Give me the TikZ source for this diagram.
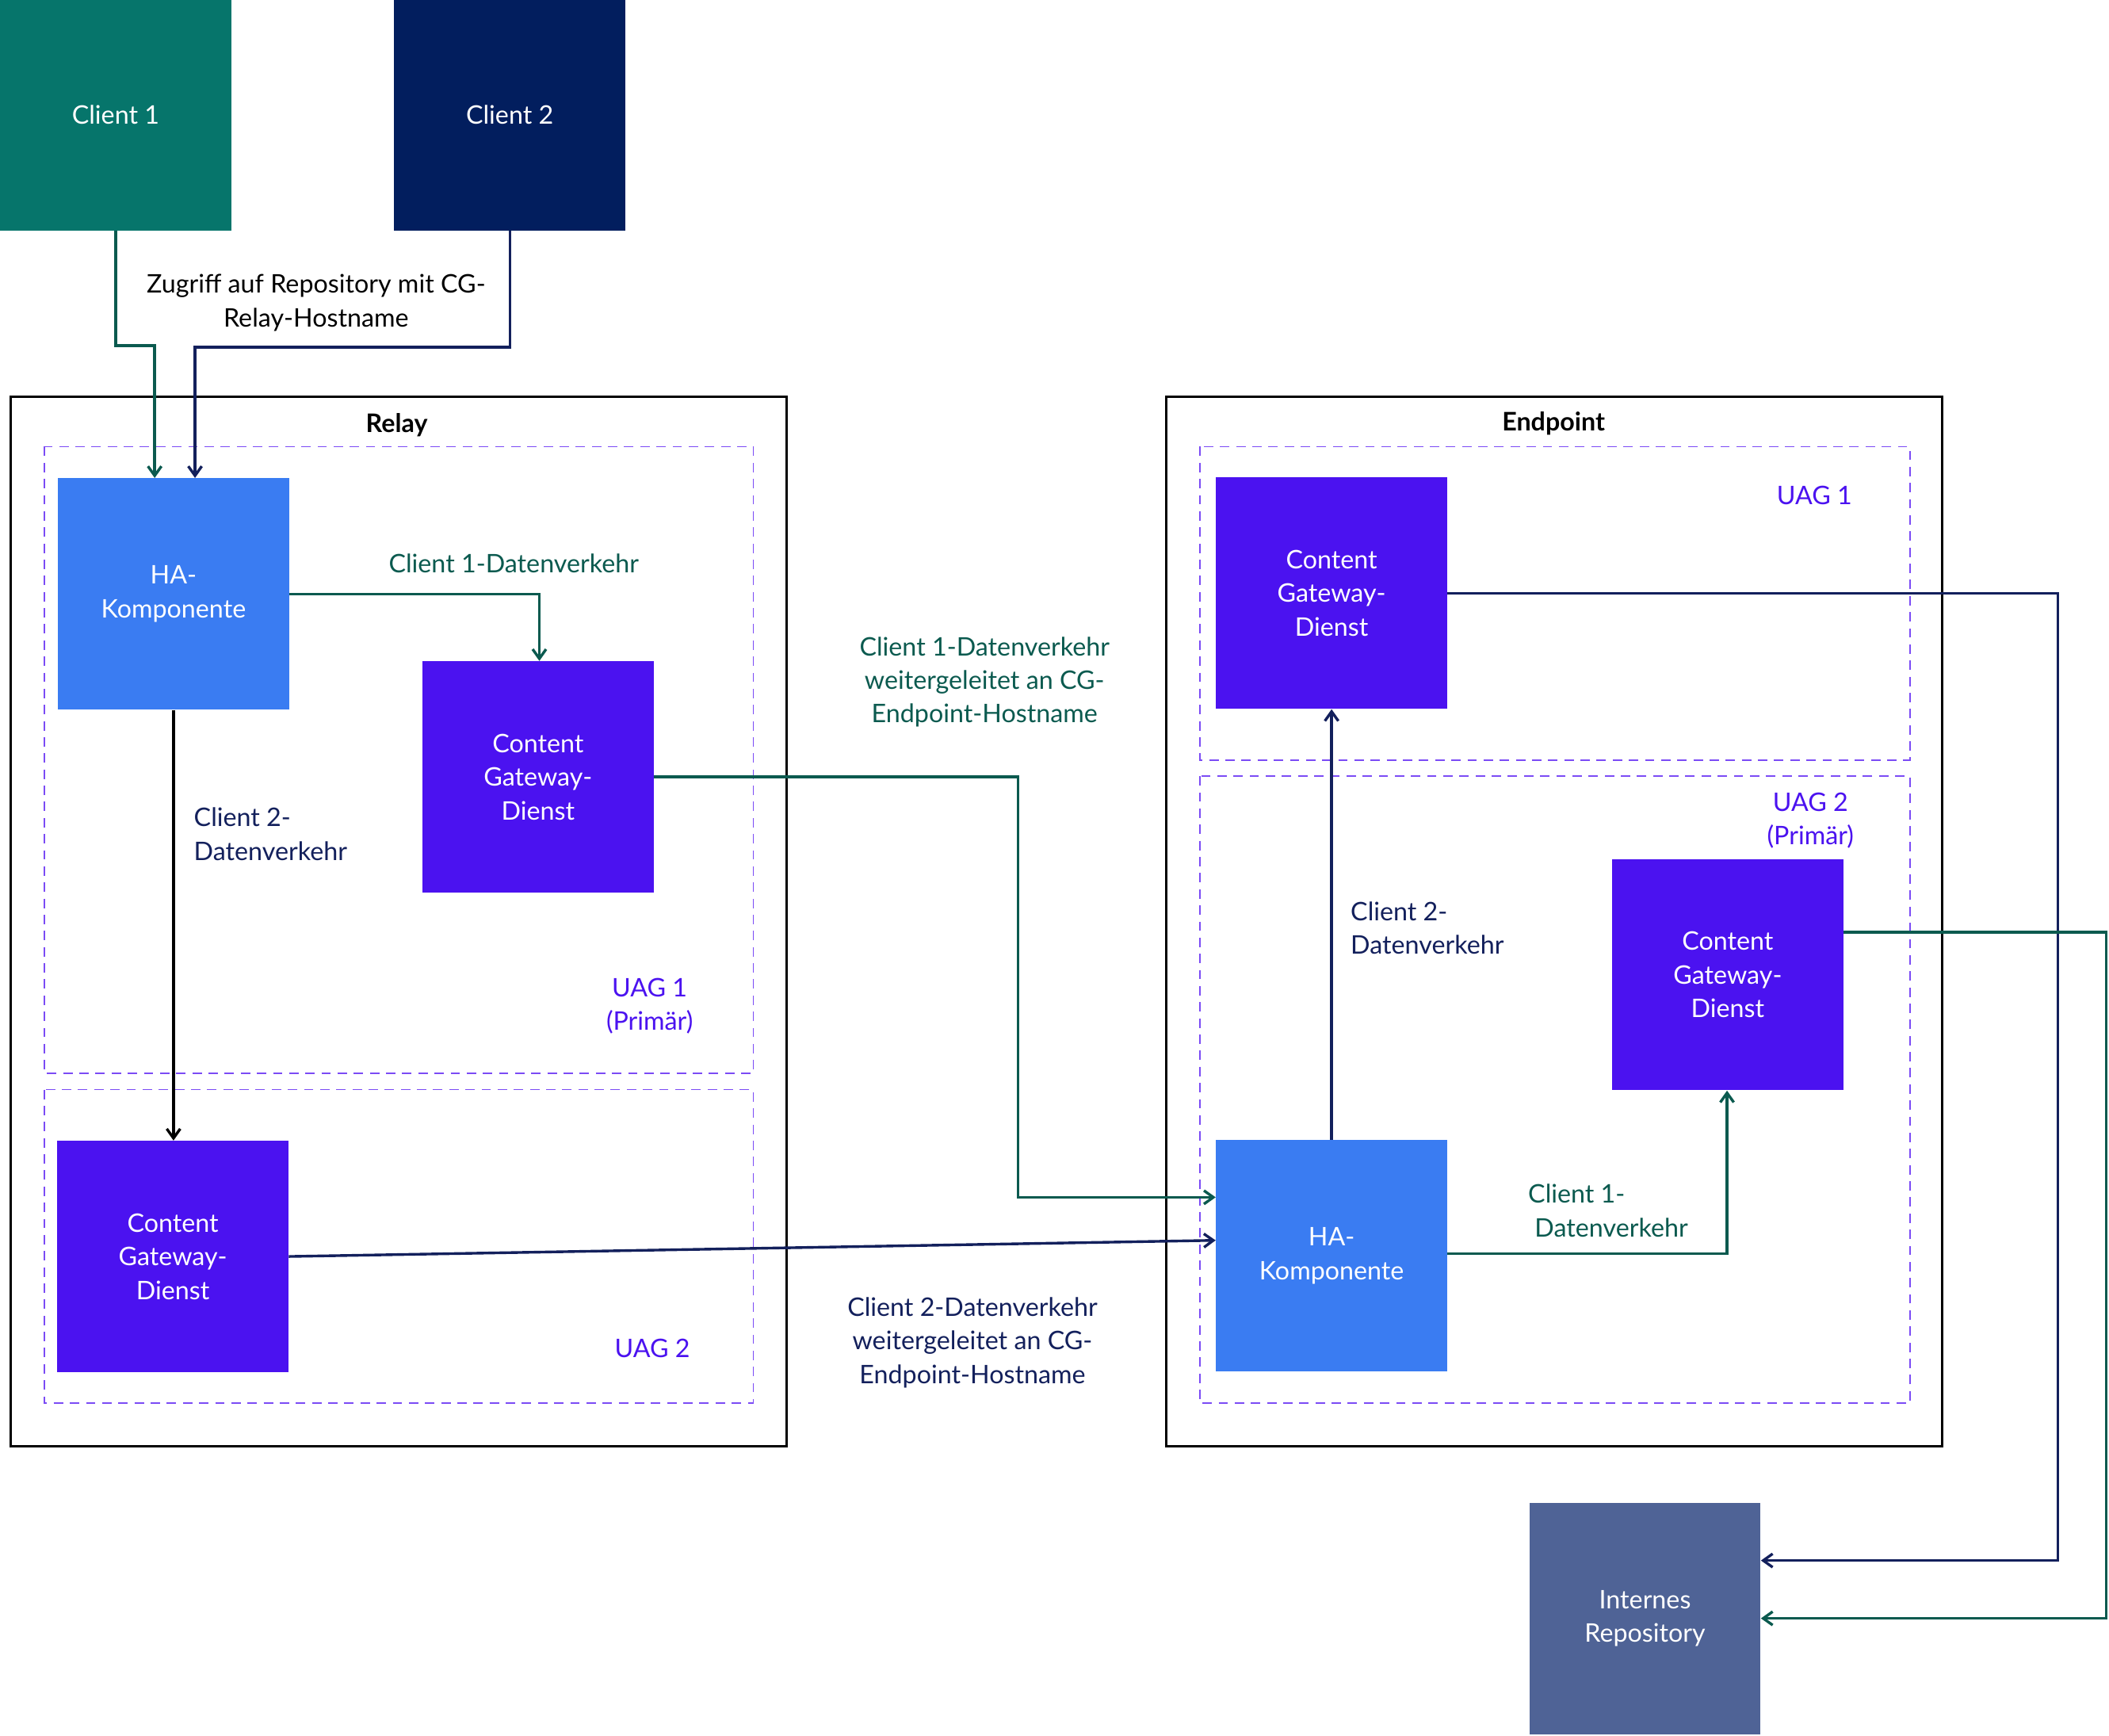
\documentclass[tikz,border=0pt]{standalone}
\usepackage{fontspec}
\setmainfont{Lato}
\usetikzlibrary{arrows.meta}
\definecolor{cone}{HTML}{06756B}
\definecolor{ctwo}{HTML}{021E5E}
\definecolor{habl}{HTML}{3A7CF2}
\definecolor{cgp}{HTML}{4B12F0}
\definecolor{repo}{HTML}{4F6396}
\definecolor{tealar}{HTML}{0B5A4F}
\definecolor{navyar}{HTML}{13205C}
\definecolor{dash}{HTML}{7B4BF5}
\tikzset{
 box/.style={draw=none,minimum width=172pt,minimum height=172pt,text=white,align=center,inner sep=0pt,font=\fontsize{19}{25}\selectfont},
 lbl/.style={align=center,font=\fontsize{19}{25}\selectfont,inner sep=0pt},
 uag/.style={draw=dash,dashed,line width=1pt,dash pattern=on 7pt off 5pt},
 outer/.style={draw=black,line width=2pt},
 ar/.style={line width=2pt,-{Straight Barb[length=7pt,width=10pt]}},
}
\begin{document}
\begin{tikzpicture}[x=1pt,y=-1pt]
\useasboundingbox (0,0) rectangle (1568,1290);
\fill[white] (0,0) rectangle (1568,1290);
% outer boxes
\draw[outer] (8,295) rectangle (585,1075);
\draw[outer] (867,295) rectangle (1444,1075);
\node[lbl,font=\fontsize{19}{25}\selectfont\bfseries] (trel) at (295,316) {Relay};
\node[lbl,font=\fontsize{19}{25}\selectfont\bfseries] (tend) at (1155,315) {Endpoint};
\draw[uag] (33,332) rectangle (560,798);
\draw[uag] (33,810) rectangle (560,1043);
\draw[uag] (892,332) rectangle (1420,565);
\draw[uag] (892,577) rectangle (1420,1043);
% nodes
\node[box,fill=cone] (c1) at (86,85.5) {Client 1};
\node[box,fill=ctwo] (c2) at (379,85.5) {Client 2};
\node[box,fill=habl] (har) at (129,441.5) {HA-\\Komponente};
\node[box,fill=cgp] (cgr1) at (400,577.5) {Content\\Gateway-\\Dienst};
\node[box,fill=cgp] (cgr2) at (128.5,934) {Content\\Gateway-\\Dienst};
\node[box,fill=cgp] (cge1) at (990,441) {Content\\Gateway-\\Dienst};
\node[box,fill=cgp] (cge2) at (1284.5,724.5) {Content\\Gateway-\\Dienst};
\node[box,fill=habl] (hae) at (990,933.5) {HA-\\Komponente};
\node[box,fill=repo] (rep) at (1223,1203) {Internes\\Repository};
% labels
\node[lbl,text=cgp] (u1e) at (1349,368) {UAG 1};
\node[lbl,text=cgp] (u2e) at (1346,610) {UAG 2\\(Primär)};
\node[lbl,text=cgp] (u1r) at (483,748) {UAG 1\\(Primär)};
\node[lbl,text=cgp] (u2r) at (485,1002) {UAG 2};
\node[lbl] (lz) at (235,225) {Zugriff auf Repository mit CG-\\Relay-Hostname};
\node[lbl,text=tealar] (l1) at (382,419) {Client 1-Datenverkehr};
\node[lbl,text=navyar,align=left,anchor=west] (l2) at (144,620) {Client 2-\\Datenverkehr};
\node[lbl,text=tealar] (l3) at (732,507) {Client 1-Datenverkehr\\weitergeleitet an CG-\\Endpoint-Hostname};
\node[lbl,text=navyar] (l4) at (723,998) {Client 2-Datenverkehr\\weitergeleitet an CG-\\Endpoint-Hostname};
\node[lbl,text=tealar,align=left,anchor=west] (l5) at (1136,900) {Client 1-\\\ Datenverkehr};
\node[lbl,text=navyar,align=left,anchor=west] (l6) at (1004,690) {Client 2-\\Datenverkehr};
% connectors
\draw[ar,tealar] (c1.south) -- (86,257) -- (115,257) -- (har.north -| 115,0);
\draw[ar,navyar] (c2.south) -- (379,258) -- (145,258) -- (har.north -| 145,0);
\draw[ar,tealar] (har.east) -- (401,441.5) -- (cgr1.north -| 401,0);
\draw[ar,black] (har.south) -- (cgr2.north -| har.south);
\draw[ar,tealar] (cgr1.east) -- (757,577.5) -- (757,890) -- (hae.west |- 0,890);
\draw[ar,navyar] (cgr2.east) -- (hae.west |- 0,922);
\draw[ar,tealar] (hae.east |- 0,932) -- (1284,932) -- (cge2.south -| 1284,0);
\draw[ar,navyar] (hae.north) -- (cge1.south);
\draw[ar,navyar] (cge1.east) -- (1530,441) -- (1530,1160) -- (rep.east |- 0,1160);
\draw[ar,tealar] (cge2.east |- 0,693) -- (1566,693) -- (1566,1203) -- (rep.east |- 0,1203);
\end{tikzpicture}
\end{document}
